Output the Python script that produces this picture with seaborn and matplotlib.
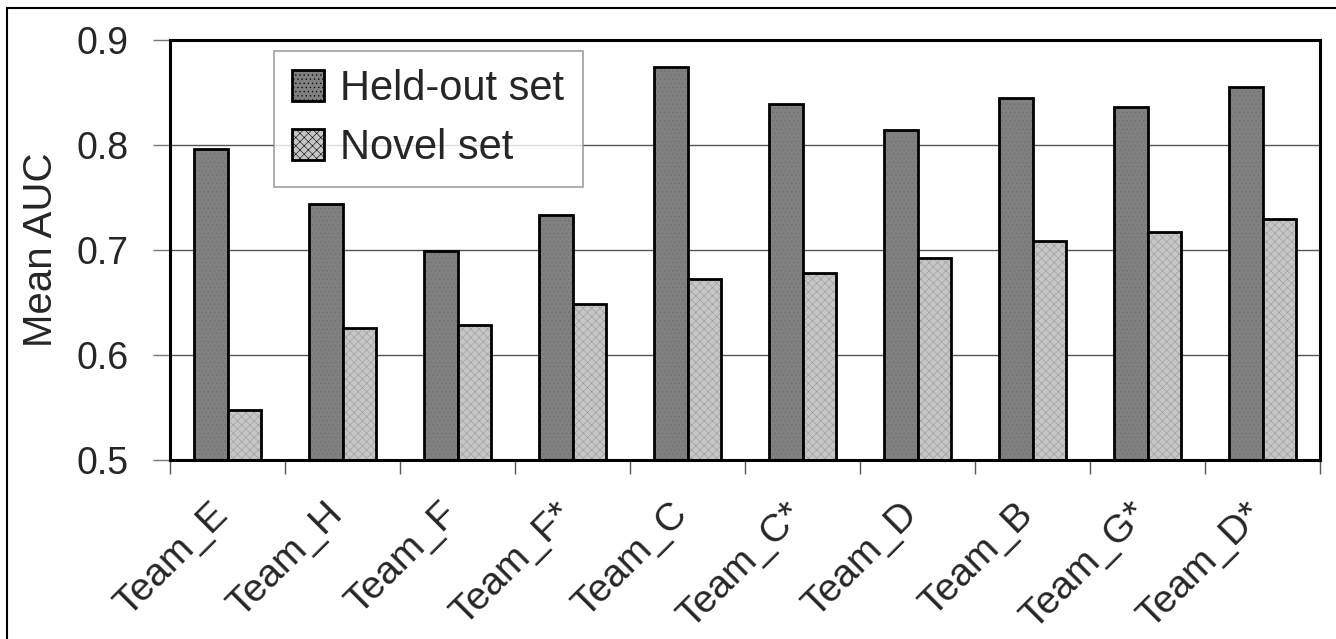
"""
Mean AUC per team on the held-out and novel sets.
"""

import matplotlib.pyplot as plt
import matplotlib.transforms as mtransforms
import numpy as np
import pandas as pd
import seaborn as sns
from matplotlib.colors import to_rgba
from matplotlib.lines import Line2D

teams = ["Team_E", "Team_H", "Team_F", "Team_F*", "Team_C",
         "Team_C*", "Team_D", "Team_B", "Team_G*", "Team_D*"]
held_out = [0.796, 0.744, 0.699, 0.733, 0.874, 0.839, 0.814, 0.845, 0.836, 0.855]
novel = [0.548, 0.626, 0.629, 0.649, 0.672, 0.678, 0.692, 0.709, 0.717, 0.730]
set_names = ["Held-out set", "Novel set"]
y_ticks = [0.5, 0.6, 0.7, 0.8, 0.9]

df = pd.DataFrame({
    "team": teams * 2,
    "auc": held_out + novel,
    "set": [set_names[0]] * len(teams) + [set_names[1]] * len(teams),
})

sns.set_style("white")
plt.rcParams["font.family"] = ["Liberation Sans", "DejaVu Sans"]
plt.rcParams["hatch.linewidth"] = 0.4

fig, ax = plt.subplots(figsize=(13.36, 6.39), dpi=100)
fig.subplots_adjust(left=170 / 1336, right=1320 / 1336, top=1 - 40 / 639, bottom=1 - 460 / 639)

colors = {"Held-out set": "#808080", "Novel set": "#c6c6c6"}
hatches = {"Held-out set": "....", "Novel set": "xxxx"}
hatch_col = {"Held-out set": "#6e6e6e", "Novel set": "#9a9a9a"}

sns.barplot(
    data=df, x="team", y="auc", hue="set", order=teams, hue_order=set_names,
    palette=colors, width=0.58, gap=0, edgecolor="black", linewidth=2.0,
    saturation=1, ax=ax, legend=False,
)

# fine texture on the bars
for cont, name in zip(ax.containers, set_names):
    for bar in cont:
        bar.set_hatch(hatches[name])
        bar._hatch_color = to_rgba(hatch_col[name])

ax.set_ylim(0.5, 0.9)
ax.set_xlim(-0.5, len(teams) - 0.5)
ax.set_yticks(y_ticks)
ax.set_yticklabels([f"{v:.1f}" for v in y_ticks], fontsize=27)
for v in y_ticks[1:-1]:
    ax.axhline(v, color="#555555", linewidth=1.0, zorder=0)

ax.set_xticks(range(len(teams)))
ax.set_xticklabels(teams, fontsize=28, rotation=45, ha="right", rotation_mode="anchor")
ax.set_xticks(np.arange(-0.5, len(teams)), minor=True)
ax.tick_params(axis="x", which="major", length=0, pad=26, bottom=True)
ax.tick_params(axis="x", which="minor", length=10, width=1, color="#555555",
               direction="out", bottom=True)
ax.tick_params(axis="y", length=12, width=1, color="#777777", direction="out", pad=18, left=True)

# nudge the slanted labels left so they end under the bar pair
offset = mtransforms.ScaledTranslation(-18 / 100, 0, fig.dpi_scale_trans)
for lbl in ax.get_xticklabels():
    lbl.set_transform(lbl.get_transform() + offset)

ax.set_xlabel("")
ax.set_ylabel("Mean AUC", fontsize=29, labelpad=12)

for side in ["left", "right", "top", "bottom"]:
    ax.spines[side].set_visible(True)
    ax.spines[side].set_color("black")
    ax.spines[side].set_linewidth(2.2)

# legend
handles = [plt.Rectangle((0, 0), 1, 1, facecolor=colors[n], edgecolor="black",
                         linewidth=2.0, hatch=hatches[n]) for n in set_names]
leg = ax.legend(handles, set_names, loc="upper left", bbox_to_anchor=(0.09, 0.975),
                fontsize=30, frameon=True, fancybox=False, edgecolor="#888888",
                handlelength=0.75, handleheight=0.75, handletextpad=0.4,
                labelspacing=0.45, borderpad=0.45, borderaxespad=0)
leg.get_frame().set_linewidth(1.2)

# outer frame (left and top edges visible)
fig.add_artist(Line2D([7 / 1336, 7 / 1336], [0, 1 - 8 / 639], color="black", linewidth=1.5))
fig.add_artist(Line2D([7 / 1336, 1], [1 - 8 / 639, 1 - 8 / 639], color="black", linewidth=1.5))

plt.savefig("out.png", dpi=100)
plt.close()
